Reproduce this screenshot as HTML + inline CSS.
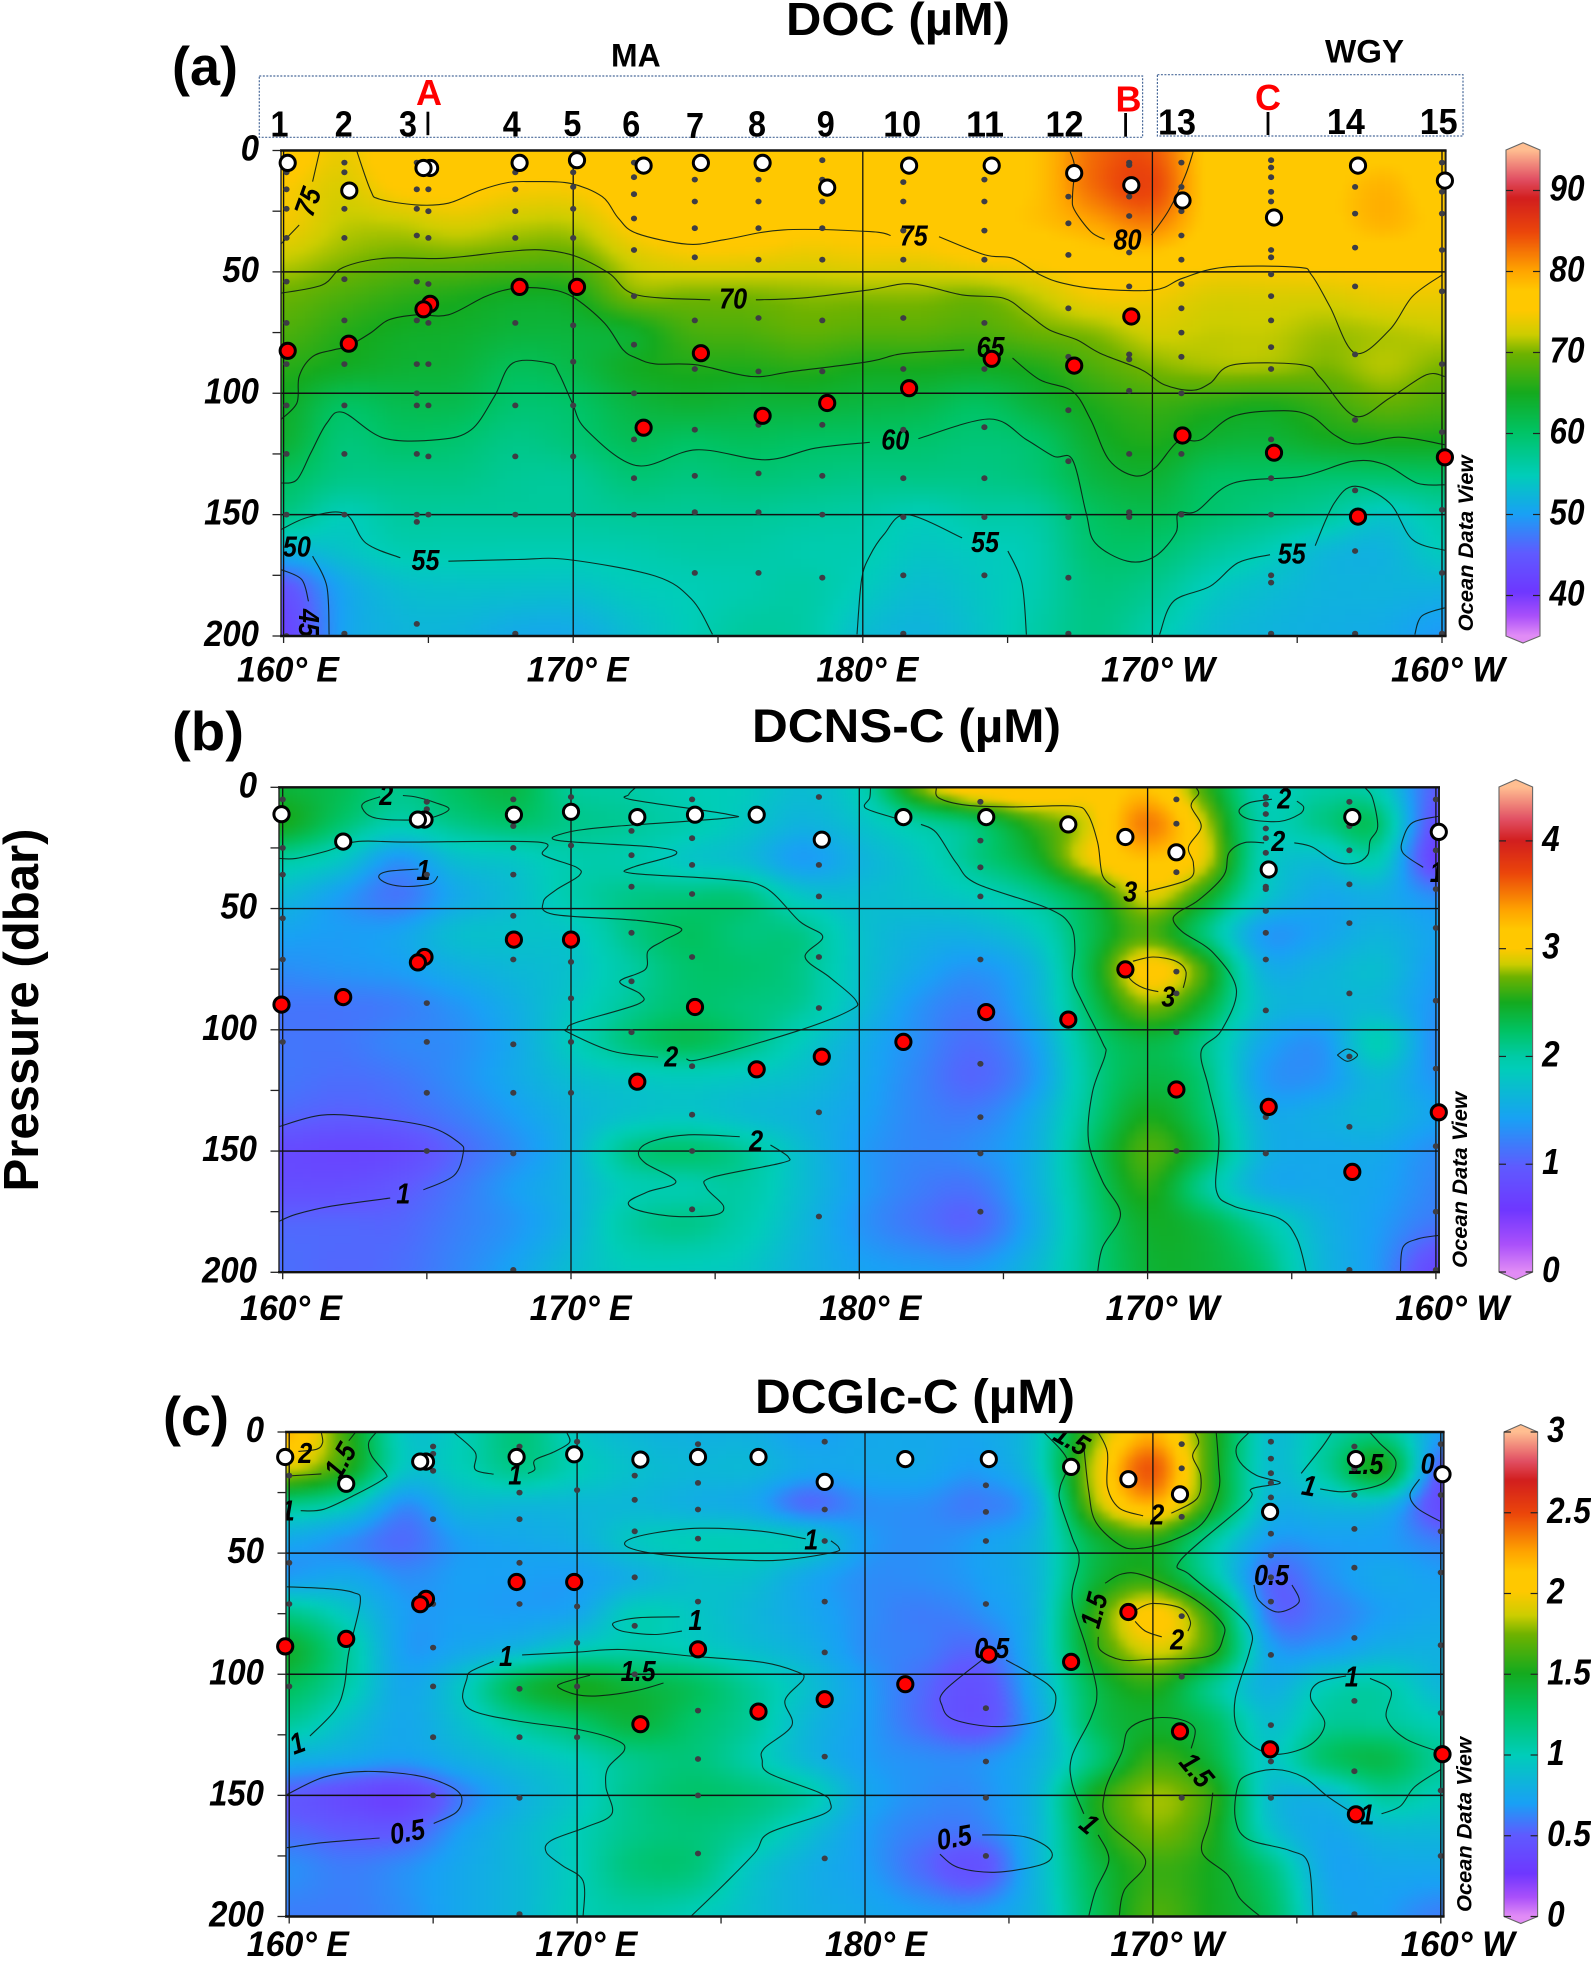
<!DOCTYPE html>
<html lang="en">
<head>
<meta charset="utf-8">
<title>DOC, DCNS-C and DCGlc-C sections</title>
<style>
html,body{margin:0;padding:0;background:#fff;}
svg{display:block;}
text{font-family:"Liberation Sans",sans-serif;fill:#000;}
</style>
</head>
<body>
<svg id="figure" xmlns="http://www.w3.org/2000/svg" width="1591" height="1963" viewBox="0 0 1591 1963">
  <defs>
    <filter id="soft" x="-2%" y="-2%" width="104%" height="104%" color-interpolation-filters="sRGB"><feGaussianBlur stdDeviation="3"/></filter>
  </defs>
  <rect x="0" y="0" width="1591" height="1963" fill="#fff"/>
  <g id="panels"></g>

  <text x="786" y="35" font-size="46" font-weight="700" textLength="224" lengthAdjust="spacingAndGlyphs">DOC (µM)</text>
  <text x="752" y="742" font-size="47" font-weight="700" textLength="309" lengthAdjust="spacingAndGlyphs">DCNS-C (µM)</text>
  <text x="755" y="1413" font-size="48" font-weight="700" textLength="320" lengthAdjust="spacingAndGlyphs">DCGlc-C (µM)</text>
  <text x="172" y="85" font-size="55" font-weight="700" textLength="66" lengthAdjust="spacingAndGlyphs">(a)</text>
  <text x="172" y="750" font-size="55" font-weight="700" textLength="72" lengthAdjust="spacingAndGlyphs">(b)</text>
  <text x="163" y="1435" font-size="55" font-weight="700" textLength="66" lengthAdjust="spacingAndGlyphs">(c)</text>
  <text transform="translate(38,1010) rotate(-90)" text-anchor="middle" font-size="49" font-weight="700" textLength="363" lengthAdjust="spacingAndGlyphs">Pressure (dbar)</text>

  <g>
    <rect x="259.3" y="76" width="883.3" height="61.3" fill="none" stroke="#4a6a9a" stroke-width="1.2" stroke-dasharray="2 1.5"/>
    <rect x="1157.4" y="74.7" width="305.6" height="61.3" fill="none" stroke="#4a6a9a" stroke-width="1.2" stroke-dasharray="2 1.5"/>
    <text x="611" y="66.7" font-size="32" font-weight="700" textLength="49.6" lengthAdjust="spacingAndGlyphs">MA</text>
    <text x="1325" y="62.3" font-size="32" font-weight="700" textLength="79" lengthAdjust="spacingAndGlyphs">WGY</text>
    <text x="429" y="105" font-size="36" font-weight="700" text-anchor="middle" style="fill:#f00">A</text>
    <text x="1128.5" y="111.7" font-size="36" font-weight="700" text-anchor="middle" style="fill:#f00">B</text>
    <text x="1268" y="110" font-size="36" font-weight="700" text-anchor="middle" style="fill:#f00">C</text>
    <rect x="426.5" y="111.7" width="2.8" height="23.5" fill="#000"/>
    <rect x="1124.2" y="113" width="2.8" height="23.7" fill="#000"/>
    <rect x="1266.6" y="112" width="2.8" height="23" fill="#000"/>
    <g font-size="36" font-weight="700" text-anchor="middle">
      <text x="279.5" y="136.7" textLength="18" lengthAdjust="spacingAndGlyphs">1</text>
      <text x="343.8" y="136.7" textLength="18" lengthAdjust="spacingAndGlyphs">2</text>
      <text x="408" y="136.7" textLength="18" lengthAdjust="spacingAndGlyphs">3</text>
      <text x="511.8" y="136.7" textLength="18" lengthAdjust="spacingAndGlyphs">4</text>
      <text x="572.4" y="136" textLength="18" lengthAdjust="spacingAndGlyphs">5</text>
      <text x="631.2" y="136.7" textLength="18" lengthAdjust="spacingAndGlyphs">6</text>
      <text x="695" y="138" textLength="18" lengthAdjust="spacingAndGlyphs">7</text>
      <text x="757" y="136.7" textLength="18" lengthAdjust="spacingAndGlyphs">8</text>
      <text x="825.8" y="136.7" textLength="18" lengthAdjust="spacingAndGlyphs">9</text>
      <text x="902.2" y="136.7" textLength="38" lengthAdjust="spacingAndGlyphs">10</text>
      <text x="985" y="136.7" textLength="38" lengthAdjust="spacingAndGlyphs">11</text>
      <text x="1064.5" y="136.7" textLength="38" lengthAdjust="spacingAndGlyphs">12</text>
      <text x="1177" y="134.3" textLength="38" lengthAdjust="spacingAndGlyphs">13</text>
      <text x="1345.9" y="134" textLength="38" lengthAdjust="spacingAndGlyphs">14</text>
      <text x="1438.7" y="134" textLength="38" lengthAdjust="spacingAndGlyphs">15</text>
    </g>
  </g>
  <text transform="translate(1473,543.5) rotate(-90)" text-anchor="middle" font-size="21" font-weight="700" font-style="italic" textLength="176" lengthAdjust="spacingAndGlyphs">Ocean Data View</text>
  <text transform="translate(1467,1180) rotate(-90)" text-anchor="middle" font-size="21" font-weight="700" font-style="italic" textLength="176" lengthAdjust="spacingAndGlyphs">Ocean Data View</text>
  <text transform="translate(1471.5,1824.5) rotate(-90)" text-anchor="middle" font-size="21" font-weight="700" font-style="italic" textLength="175" lengthAdjust="spacingAndGlyphs">Ocean Data View</text>
</svg>

<script>
// ---------- shared grid axes ----------
const gridLons = [160,162,164,166,168,170,172,174,176,178,180,182,184,186,188,190,192,194,196,198,200];
const gridDepths = [0,15,30,45,60,75,90,105,120,135,150,165,180,200];
const xTickValues = [160,170,180,190,200];
const xTickLabels = ['160° E','170° E','180° E','170° W','160° W'];
const yTickValues = [0,50,100,150,200];
const yTickLabels = ['0','50','100','150','200'];

// ---------- panel (a) DOC ----------
const aGrid = [
[77,74,77,77,77,77,77,77,77,77,77,77,77,78,83,84,77,76,76,77,76],
[75,73,75.5,76,75,75,77,77,77,77,77,77,77,78,83,85,77,76,77,79,76],
[74.5,72,72,73,72,72,75.5,77,77,76,76,76.5,77,78,80,82,77,76,77,79,77],
[72,70.5,69.5,69.5,69,69,72.5,74,74,73.5,74,74,75,75.5,76.5,77,75.5,75.5,76,76,76],
[69.5,68,66.5,65.5,64.5,65,70,70,70,70.5,70.5,70.5,70,72,74.5,74.5,73,73,73,74,74],
[68,66,64.5,64,63,63,64,67.5,68,69,68.5,68.5,68,69.5,70.5,72.5,72,72,71,71.5,72],
[66,64.5,63.5,63,61,62,64.5,65.5,65.5,66,65,65,64.5,65.5,68,70,71,71,70,71.5,70],
[64.5,60.5,61.5,61.5,59.5,60,62.5,63.5,63,63,62.5,62,60.5,63,65.5,67,66,65.3,67,69,68],
[63.5,59,60,59.5,58,59,61,60.3,60.8,60.3,60,59.7,59,60,64,65.5,63.5,63,64.5,65,65],
[60.5,58,58,58,57,57,59,58.5,59,58.5,58,58,58,59,62.5,63.5,60.5,60,59.5,59.5,60],
[58,55,56.5,56.5,56.5,56.5,57,57,57,56.5,56,55,56,56.5,60.5,61.5,59.5,58,56.5,54,56],
[52,53.5,55.2,55.3,55.2,55.2,55.5,56,56,55.5,55.2,54,54.5,55.5,59.5,59.5,57,55,52.5,52,54.5],
[44.5,50.5,53,53.5,53.5,53.5,54.5,55,55.5,56,54.5,53,54,55.5,58.5,57.5,54.5,53,52,52,52],
[42,50,52,52,51,51,53,54.8,56.5,56,53,52,53.5,56,58,55.5,53,52,51.5,51,49.5]
];
const aC75w = [161.25,0, 161,12.8, null, 160.54,30.7, 159.9,38.6];
const aC75m = [162.52,0, 163,16.3, 163.31,20, 164.58,22.4, 165.69,21.7, 166.8,16.3, 167.75,13.2, 168.55,12.8, 169.89,13.5, 171,19, 171.56,27.9, 172.19,34.1, 173.94,38.6, 175.2,36.8, 177.26,32.7, 180.24,33.4, 180.96,35, null, 182.63,35.5, 184.22,43, 185.17,44.4, 186.12,51.2, 186.92,54.7, 188.19,57.1, 190.09,57.4, 191.05,52.6, 192.47,48.1, 195.01,48.1, 195.49,51.2, 196.13,64.3, 197,83.5, 198.19,73.9, 198.98,60.1, 200.01,51.2];
const aC80 = [187.16,0.5, 187.31,6.7, 187.24,19, 187.31,24.5, 187.87,33.4, 188.35,36.6, null, 189.97,34.8, 190.57,24.5, 191.12,10.8, 191.41,0.5];
const aC70 = [159.9,58.8, 161.33,55.4, 162.05,48.2, 163.47,44.4, 165.53,44.4, 167.75,41.6, 168.86,40.9, 170.05,43.4, 171.24,50.6, 172.19,59.5, 174.73,61.5, null, 176.31,61.5, 177.9,60.8, 180.24,57.4, 181.68,54.9, 183.43,59.5, 184.85,60.8, 185.65,67, 186.44,73.9, 187.39,78, 188.19,83.5, 189.62,90.3, 190.41,96.5, 191.36,98.8, 192,95.8, 192.79,88.3, 195.17,88.3, 195.81,93.8, 197,109.5, 198.19,102, 199.46,92.4, 200.09,93.1];
const aC65 = [159.9,110.9, 160.46,104, 160.54,93, 161,84.9, 161.73,82.1, 162.2,80.7, 163,75.2, 163.63,69.8, 164.58,67.7, 165.69,67.7, 166.96,60.2, 167.91,56.9, 169.02,56.9, 169.97,60.2, 171.08,71.1, 171.72,82.1, 172.19,85.5, 172.83,87.9, 174.25,88.3, 176.15,93.1, 177.58,91, 180.24,86.9, 181.36,83.7, 183.5,82.1, null, 185.17,85.5, 186.12,94.5, 187.24,99.2, 187.87,110.9, 188.5,127.4, 189.38,134, 190.09,130.8, 190.89,119.8, 191.68,119.1, 192.79,109.5, 194.54,107.2, 195.49,109.5, 196.28,117.1, 197.08,120.9, 198.51,118.1, 200.09,121.2];
const aC60 = [159.9,137, 160.46,135.6, 160.94,124.6, 161.49,112.3, 162.05,107.9, 163.47,118.5, 165.37,119.1, 166.48,115, 167.28,101.3, 167.91,87.6, 169.18,87.6, 169.5,91.7, 169.97,104, 170.45,115, 172.19,129.8, 174.25,123.3, 176.63,127.4, 178.37,122.6, 180.24,120.2, null, 181.92,118.7, 184.38,110.6, 185.65,119.1, 186.6,126, 187.24,127.4, 187.71,149.3, 188.03,161.7, 189.14,169.2, 190.09,167.2, 190.81,157.5, 190.89,149.3, 191.52,148.6, 192.79,137, 195.17,134.2, 196.92,128, 198.03,129.4, 199.14,137, 200.09,137.7];
const aC55a = [159.9,156.2, 160.86,151, 162.12,149.6, 162.84,161.7, 164.03,167.8, null, 165.69,169.2, 168.07,168.5, 169.81,168.5, 172.83,175.3, 174.09,184.9, 174.81,199.3];
const aC55b = [179.8,199.3, 179.96,176.7, 180.24,167, 180.73,158.2, 181.52,150, 183.43,159.6, null, 185.01,165, 185.49,178.1, 185.65,199.4];
const aC55c = [190.25,199.4, 190.73,185.7, 192,179.5, 192.95,169.9, 194.06,166.5, null, 195.62,162.8, 196.28,145.2, 197,138.3, 198.19,145.2, 198.98,160.3, 200.09,164.7];
const aC50a = [161,167.1, 161.49,179.5, 161.57,199.4];
const aC50b = [199.06,199.4, 199.3,191.8, 200.09,188.4];
const aC45 = [159.9,172.6, 160.62,176.7, 160.86,185.7];
const aLabelText = ['75','75','80','70','65','60','55','55','55','50','45'];
const aLabelLon = [160.82,181.76,189.14,175.52,184.41,181.12,164.9,184.22,194.81,160.46,160.89];
const aLabelP = [21,34.8,36.5,60.8,80.7,118.9,168.5,161,165.8,163,194.6];
const aLabelRot = [-70,0,0,0,0,0,0,0,0,0,90];
const aWhiteLon = [160.14,162.27,165.06,164.83,168.15,170.13,172.43,174.41,176.54,178.77,181.6,184.45,187.3,189.27,191.04,194.2,197.1,200.1];
const aWhiteP = [5.1,16.5,7.2,7.2,5.1,4,6.2,5.1,5.1,15.3,6.2,6.2,9.3,14.3,20.6,27.6,6.2,12.4];
const aRedLon = [160.14,162.25,165.06,164.83,168.15,170.13,174.41,172.43,176.54,178.77,181.6,184.45,187.3,189.27,191.04,194.2,197.1,200.1];
const aRedP = [82.5,79.6,63.2,65.4,56.2,56.2,83.5,114.2,109.3,104,97.9,85.8,88.6,68.4,117.4,124.5,150.8,126.4];
const aDotLon = [160.1,162.1,164.6,165,168,170,172.1,174.2,176.4,178.6,181.4,184.2,187.1,189.2,191,194.1,197,200];
const aDotP = [
[9,16,24,36,54,71,88,105,125,150,200],
[5,9,24,36,53,70,88,105,125,150,199],
[5,16,24,35,54,70,88,100,105,125,150,153,195],
[16,25,36,55,71,88,105,126,150],
[9,16,25,36,71,105,126,150,199],
[9,15,24,36,72,87,105,126,150],
[5,11,18,28,41,60,80,100,119,135,150],
[12,21,32,44,70,90,115,134,149,174],
[12,21,32,45,69,91,113,133,149,174],
[4,12,21,32,45,70,91,113,134,150,176],
[13,21,33,45,69,90,115,135,151,175,199],
[12,21,33,45,71,90,114,135,151,175],
[19,30,43,65,85,107,128,151,176,199],
[5,6,19,27,42,56,84,86,99,125,149,151],
[5,15,25,35,45,55,65,75,85,100,125,150],
[4,7,11,17,21,41,44,51,60,70,81,90,119,135,150,175,178,199],
[15,26,40,56,84,111,140,165,199],
[5,17,26,41,58,88,116,148,174,199]
];
const aBarTicks = [90,80,70,60,50,40];
const aBarLabels = ['90','80','70','60','50','40'];

// ---------- panel (b) DCNS-C ----------
const bGrid = [
[2.4,2.3,2.1,2.25,2.35,2.05,2,1.9,1.85,1.7,1.9,2.7,3.15,3.2,3.05,3.2,2.6,1.9,2,1.9,1],
[2.5,2.2,1.95,2.1,2.2,2.1,2.05,1.95,1.8,1.6,1.75,2,2.2,2.6,2.9,3.5,2.85,1.95,2.1,2.2,0.85],
[2,1.8,1.35,1.7,1.8,1.95,1.95,1.8,1.7,1.4,1.6,1.8,2.1,2.4,2.95,3.2,2.9,1.9,1.7,1.9,0.7],
[1.65,1.4,1.15,1.5,1.7,1.95,2.1,2.15,2.15,1.8,1.7,1.75,1.85,2.05,2.4,2.9,2.5,1.8,1.5,1.55,1.3],
[1.45,1.4,1.45,1.7,1.75,1.8,2.1,2.25,2.15,2.1,1.75,1.6,1.6,1.8,2.3,2.65,2.15,1.4,1.45,1.6,1.45],
[1.3,1.35,1.4,1.55,1.65,1.75,2,2.2,2.2,2.1,1.75,1.5,1.35,1.6,2.35,3.05,2.6,1.6,1.6,1.7,1.4],
[1.15,1.15,1.2,1.35,1.55,1.8,2.05,2.2,2.15,2.05,1.7,1.35,1.2,1.55,2.25,2.75,2.4,1.7,1.6,1.65,1.35],
[1.15,1.15,1.25,1.3,1.5,1.85,2.15,2.3,2.15,1.85,1.55,1.3,1.1,1.4,2.1,2.35,2.1,1.5,1.35,1.9,1.3],
[1.15,1.1,1.15,1.3,1.5,1.7,1.8,1.85,1.8,1.7,1.5,1.25,1.05,1.35,2.05,2.35,2.15,1.4,1.35,1.65,1.35],
[1.05,1,1.05,1.2,1.4,1.6,1.75,1.8,1.7,1.6,1.45,1.25,1.2,1.5,2.1,2.5,2.2,1.55,1.55,1.65,1.45],
[0.8,0.75,0.8,1.05,1.3,1.6,2.1,2.2,2.05,1.7,1.4,1.25,1.3,1.55,2.2,2.65,2.3,1.6,1.5,1.5,1.3],
[0.85,0.85,0.95,1.15,1.4,1.6,1.9,1.95,2,1.7,1.4,1.2,1.15,1.55,2.15,2.55,2.05,1.55,1.5,1.45,1.25],
[1.05,1.05,1.05,1.2,1.35,1.6,2,2.1,1.95,1.65,1.35,1.15,1.05,1.5,2.1,2.45,2.35,2,1.6,1.4,1.15],
[1.1,1.05,1.1,1.25,1.45,1.7,1.85,1.85,1.8,1.6,1.45,1.4,1.4,1.65,2.1,2.4,2.4,2.2,1.65,1.35,0.75]
];
const bC2loop = [163.38,3.9, 162.85,6.1, 162.76,8.6, 163.11,12.3, 164,13.5, 165.06,12.8, 165.77,9.1, 165.24,6.1, 164.62,4, 164.17,3.4];
const bC2main = [159.87,29.3, 160.46,29.3, 161.52,26.3, 162.58,22.4, 164.35,22.6, 168.86,22.6, 169.04,27.9, 170.19,33, 170.28,36.4, 169.48,42.3, 169.04,47.3, 169.4,52.4, 172.32,54.9, 173.82,58.2, 173.2,63.3, 172.67,67.5, 172.58,75.1, 171.69,80.1, 172.4,85.2, 172.32,89.4, 170.19,97, 169.87,99.5, 169.93,101.2, 171.43,108.8, 173.02,111.3, null, 174,112.1, 174.62,111.8, 177.98,100, 179.69,91.9, 179.87,87.7, 178.99,78.5, 178.12,70, 178.73,61.6, 177.94,55.4, 176.74,41.4, 175.32,38, 172.14,35.5, 172.14,33, 173.64,27.6, 172.85,24.6, 169.57,22, 169.84,18.7, 171.43,16.2, 175.32,12.8, 175.41,11.1, 172.14,5.2, 172,3, 172.23,0.2];
const bC1loop = [164.71,33.7, 163.64,34.7, 163.33,36.9, 163.64,39.7, 164.35,40.9, 165.15,39.7, 165.38,36.7];
const bC1west = [159.87,139.9, 161.34,135.2, 162.94,136, 165.06,139.9, 166.12,146.6, 166.26,150.8, 165.94,160.1, 164.88,166, null, 163.73,169.4, 161.7,172.7, 160.46,176.1, 159.87,179];
const bC2south = [175.85,144.1, 174.08,143.3, 172.85,145.8, 172.35,150, 172.58,155, 173.64,162.6, 172.67,166.8, 172,171, 172.32,174.4, 173.55,176.9, 174.97,176.4, 175.29,172.7, 174.7,165.2, 174.88,160.9, 177.27,155, 177.54,152.5, 176.92,147.5];
const bC3top = [182.67,0.2, 182.76,4.4, 183.72,7.4, 185.29,8.1, 187.39,7.7, 187.92,11.1, 188.27,22.9, 188.44,36.4, 188.88,41.4, null, 189.93,43.1, 191.42,38, 191.59,31.3, 191.42,24.6, 191.86,16.2, 191.51,7.7, 191.77,2.7, 191.68,0.2];
const bC2centerW = [180.39,0.2, 180.36,4.4, 180.22,8.6, 181.27,12.8, null, 182.14,15.3, 182.67,18.7, 183.37,31.3, 184.07,39.7, 186.52,49.8, 187.31,56.6, 187.48,66.7, 187.39,78.5, 187.74,88.6, 188.44,105.4, 188.53,110.4, 188.09,125.6, 187.95,145.8, 188.44,162.6, 189.06,176.1, 188.44,189.6, 188.27,199.7];
const bC2centerE = [194.04,22.9, 193.34,22.9, 192.82,27.1, 192.64,36.4, 191.77,46.5, 191.07,51.5, 190.89,54.9, 191.24,59.9, 192.29,68.4, 193.08,83.5, 192.56,100.3, 191.86,108.8, 192.12,123.9, 192.47,144.1, 192.38,166, 192.99,172.7, 194.57,177.8, 195.18,186.2, 195.5,199.7];
const bC2east = [195.09,22.9, 195.71,24.6, 196.49,30.5, 197.19,31.3, 197.63,27.9, 197.72,22, 197.98,16.2, 197.8,4.4, 197.54,0.2];
const bC2loopE = [194.31,4.9, 193.52,6.4, 193.17,9.8, 193.52,13.1, 194.57,14.1, 195.27,11.1, 195.41,8.1, 195.18,5.7];
const bC2tiny = [196.58,110.4, 196.93,107.9, 197.28,110.4, 196.93,113, 196.58,110.4];
const bC3loopA = [189.49,71.7, 190.19,70, 190.98,71.7, 191.33,75.9, 191.24,82.7];
const bC3loopB = [189.23,75, 189.41,79.3, 189.84,82.7, 190.37,84.3];
const bC1ne = [200.08,12, 199.2,14.5, 198.86,21.2, 198.86,27.1, 199.56,33];
const bC1se = [198.77,199.7, 198.86,189.6, 199.38,186.2, 200.08,184.8];
const bLabelText = ['2','1','2','2','1','3','3','2','2','1'];
const bLabelLon = [163.59,164.88,173.48,176.42,164.18,189.4,190.72,194.74,194.53,200.03];
const bLabelP = [3,33.8,110.8,145.5,167.2,42.8,86,4.4,22,34.7];
const bLabelRot = [0,0,0,0,0,0,0,0,0,0];
const bWhiteLon = [159.96,162.1,164.92,164.69,168.02,170,172.3,174.3,176.44,178.7,181.53,184.4,187.25,189.23,191,194.2,197.1,200.1];
const bWhiteP = [11.1,22.4,13.3,13.3,11.3,10.1,12.3,11.3,11.3,21.6,12.3,12.3,15.3,20.5,26.8,33.9,12.3,18.4];
const bRedLon = [159.96,162.1,164.92,164.69,168.02,170,172.3,174.3,176.44,178.7,181.53,184.4,187.25,189.23,191,194.2,197.1,200.1];
const bRedP = [89.6,86.5,70,72.2,62.8,62.8,121.4,90.6,116.3,111.1,105,92.7,95.8,75.1,124.6,131.8,158.6,134];
const bDotLon = [160,165,168,170,172.1,174.2,178.6,184.2,191,194.1,197,200];
const bDotP = [
[5,25,36,54,71,105],
[6,9,36,89,105,126,150],
[5,16,25,36,53,71,106,126,151,199],
[4,24,72,87,105,126],
[18,28,41,60,80,101],
[5,21,32,44,70,115,135,150,174],
[4,32,45,70,91,134,177],
[6,22,33,45,71,114,136,151,175],
[5,15,35,76,85,101,150],
[4,7,11,17,21,27,41,42,51,60,71,92,136,151],
[6,16,26,40,56,85,111,140,199],
[5,26,42,58,88,116,148,175,199]
];
const bBarTicks = [4,3,2,1,0];
const bBarLabels = ['4','3','2','1','0'];

// ---------- panel (c) DCGlc-C ----------
const cGrid = [
[2.2,1.6,0.95,1,1.2,0.95,0.85,0.8,0.8,0.7,0.75,0.75,0.75,0.95,1.75,2.2,1.6,0.9,1.05,1.15,0.7],
[1.9,1.55,0.95,1,1.15,1,0.9,0.85,0.85,0.75,0.75,0.75,0.7,0.95,1.9,2.45,1.6,0.9,1.1,1.5,0.5],
[1.15,1,0.65,0.85,0.85,0.85,0.85,0.8,0.75,0.55,0.65,0.65,0.6,0.8,1.8,2.2,1.55,0.85,0.85,0.85,0.4],
[0.75,0.65,0.55,0.7,0.75,0.8,0.95,1,1,0.95,0.7,0.65,0.7,0.85,1.4,1.55,1.1,0.7,0.7,0.7,0.6],
[0.7,0.75,0.65,0.7,0.7,0.7,0.8,0.9,0.9,0.75,0.65,0.65,0.7,0.85,1.4,1.55,1.1,0.55,0.65,0.75,0.7],
[1.15,0.95,0.7,0.7,0.7,0.75,1,0.95,0.85,0.75,0.65,0.6,0.65,0.85,1.6,2.05,1.55,0.6,0.6,0.7,0.75],
[1.45,1.1,0.7,0.75,0.85,1,1.05,1,0.9,0.8,0.65,0.6,0.55,0.85,1.55,1.9,1.6,0.75,0.7,0.8,0.8],
[1.3,1.05,0.75,0.95,1.35,1.5,1.4,1.3,1.1,0.9,0.7,0.55,0.45,0.8,1.35,1.55,1.15,0.8,1,1.05,0.85],
[1.1,0.9,0.75,0.9,1.1,1.25,1.4,1.25,1.1,0.85,0.7,0.55,0.45,0.75,1.3,1.45,1.3,0.9,1.1,1.1,1],
[0.8,0.75,0.7,0.8,0.9,1,1.15,1.2,1.05,0.85,0.7,0.65,0.65,0.8,1.2,1.6,1.4,0.95,1.25,1.35,1.1],
[0.5,0.4,0.35,0.6,0.8,0.95,1.15,1.25,1.2,1.05,0.75,0.65,0.65,0.85,1.5,1.8,1.6,0.9,0.85,1.1,1],
[0.55,0.5,0.5,0.7,0.85,1,1.15,1.2,1.1,0.9,0.7,0.6,0.6,0.85,1.45,1.75,1.55,0.95,0.75,0.85,0.85],
[0.65,0.6,0.65,0.75,0.85,1,1.2,1.2,0.95,0.8,0.7,0.55,0.45,0.85,1.35,1.6,1.5,1.2,0.75,0.75,0.75],
[0.6,0.6,0.65,0.75,0.85,1,1.05,1,0.9,0.8,0.75,0.7,0.7,0.85,1.3,1.65,1.5,1.3,0.8,0.7,0.6]
];
const cC2nw = [161.12,0.4, 161.16,4.4, 160.96,7.1, 160.32,8];
const cC15nw = [159.92,18.2, 161.12,17.3, null, 162.07,3.6, 162.31,0];
const cC1nw = [160.4,32.5, 161.2,31.9, 162.31,25.8, 163.27,19.5, 163.35,17.1, 162.87,10, 162.76,4.4, 163.03,0.1];
const cC1top = [165.74,0.4, 166.46,8.4, 166.46,15.5, 167.1,17.4, null, 168.29,17.1, 168.53,15.5, 168.53,11.6, 169.17,8.4, 169.73,4.4, 169.65,0.4];
const cC1oval = [177.94,44.1, 176.35,40.9, 174.27,39.7, 172.68,41.7, 171.72,44.9, 171.88,48.1, 173.16,50.9, 175.55,52.8, 177.14,52.8, 178.9,49.7, 179.09,47.7, 178.82,44.9];
const cC1west = [159.92,63.9, 161.36,64.7, 162.23,66.3, 162.47,70.3, 162.07,90.9, 161.91,105.2, 161.6,114.7, 160.72,125.5];
const cC1small = [173.56,76.3, 172.2,76.6, 171.4,78.2, 171.24,79.8, 171.56,82.2, 172.68,83.6, 173.64,82.2];
const cC1midW = [167.1,94.6, 166.3,98.9, 166.17,102, 166.03,110, 166.46,115.5, 168.05,119.5, 170.13,123, 171.4,127.4, 171.64,131.4, 171.08,138.5, 171,146.5, 171.21,157.6, 170.29,163.2, 169.09,168.7, 168.93,173.5, 169.49,179, 170.21,185.4, 170.21,200];
const cC1midE = [168.09,92, 169.97,90.9, 171.56,89.8, 173.95,92.5, 176.35,94.9, 177.62,98.9, 177.86,102, 177.22,110.8, 177.46,121.1, 176.5,130.6, 176.43,135.4, 176.67,140.9, 178.42,148.9, 178.79,152.9, 178.58,157.6, 176.67,165.5, 176.19,173.5, 175.15,186.2, 173.95,200];
const cC15mid = [170.45,100.4, 169.49,103.6, 169.36,105.5, 169.97,108.4, 170.76,108.9, 172.04,106.8, 173,103.6];
const cC05west = [159.92,149.7, 161.2,142.5, 162.63,140.1, 164.39,141.7, 165.5,145.7, 165.98,150.4, 165.82,156.8, 165.02,161.6, null, 163.14,167.6, 161.2,169.5, 159.92,171.6];
const cC1center = [186.21,0.1, 187.03,11.6, 186.78,22.7, 186.78,29, 187.19,43.3, 187.44,52.8, 187.19,68.7, 187.69,89.3, 188.05,106.8, 187.85,117.9, 187.19,133.8, 187.19,144.9, 187.6,157.6, null, 188.1,166.3, 188.47,176.6, 188.01,189.3, 187.77,200];
const cC15top = [187.6,6, 187.77,24.3, 188.01,37, 188.83,46.5, 189.49,48.1, 190.64,44.9, 191.71,37.8, 192.28,24.3, 192.28,13.1, 192.2,0.1];
const cC2top = [188.1,0.1, 188.42,8.4, 188.42,22.7, 188.83,31.4, 189.66,34.6, null, 190.64,33.5, 191.54,27.4, 191.66,17.9, 191.38,10, 191.59,4.4, 191.46,0.1];
const cC15center = [188.34,62.4, 188.92,58.6, 189.66,59.1, 191.3,67.9, 192.36,78.2, 192.45,84.6, 191.95,92.5, 189.98,93.8, 188.92,94.1, 188.18,90.1, 188.1,84.6];
const cC2centerA = [189.41,73.5, 189.98,70.8, 190.97,72.7, 191.3,78.2, 191.22,82.2];
const cC2centerB = [189.38,78.2, 189.74,82.2, 190.31,84.6];
const cC15low = [188.83,200, 189,189.3, 189.74,176.6, 188.42,160.8, 188.34,148, 188.92,132.2, 189.16,122.7, 189.98,118.2, 190.97,118.7, 191.46,122.7, 191.33,130.6, null, 192.08,148.9, 191.95,160.8, 191.71,173.5, 192.61,183, 193.02,192.5, 193.73,200];
const cC1east = [193.35,0.1, 192.91,6, 193.02,12.3, 193.6,17.9, 194.42,21, 193.43,23.5, 193.27,29, 190.97,52.8, 191.3,59.1, 192.94,75, 193.43,83, 193.35,90.9, 192.86,110, 192.94,122.7, 193.6,130.6, 194.42,133, 195.48,129, 195.97,120.3, 195.48,110, 195.73,103.6, 196.71,100.7, null, 197.54,101.7, 198.27,106.8, 198.11,117.9, 198.77,126.6, 200,132.2];
const cC1low = [195.56,200, 195.4,178.2, 194.74,172.7, 193.27,167.9, 192.86,159.2, 192.94,146.5, 193.27,141.7, 194.25,139.3, 195.24,142.5, 196.06,150.4, 196.88,156.8, null, 197.94,157.6, 198.6,154.4, 199.09,146.5, 200,139.3];
const cC1neA = [195.15,17.1, 195.89,6, 196.22,0.1];
const cC1neB = [195.81,23.5, 196.71,24.6, 198.03,21, 198.44,12.3, 197.86,4.4, 197.53,0.1];
const cC05mid = [193.51,63.1, 193.68,69.5, 194.33,74.3, 195.07,70.3, 194.83,63.1];
const cC05center = [184.24,92.5, 182.76,106.8, 182.68,113.1, 183.09,118.7, 184.57,121.6, 186.21,118.7, 186.62,111.6, 186.37,104.4, 184.9,94.1];
const cC05low = [184.07,166.3, 185.55,167.1, 186.45,172.7, 186.21,178.2, 184.57,181.7, 183.25,179.8, 182.6,174.3];
const cC05ne = [199.26,19.5, 198.93,25.8, 199.18,31.4, 200,37];
const cLabelText = ['2','1.5','1','1','1','1','1','1.5','1','0.5','1.5','2','1.5','2','0.5','0.5','1','1.5','0','1','1.5','1','1','0.5'];
const cLabelLon = [160.56,161.75,159.95,167.85,178.13,174.11,167.53,172.12,160.27,164.1,187.19,190.15,187.93,190.84,184.4,194.12,195.43,197.4,199.54,196.91,191.54,187.8,197.45,183.09];
const cLabelP = [8.4,11.6,32.2,17.4,44.1,77.5,92.2,98.5,128.2,164.7,2.9,33.8,73.5,85.4,89,58.9,21.9,13.1,12.8,100.7,139.4,161.6,157.6,167.1];
const cLabelRot = [0,-60,0,0,0,0,0,0,-20,-10,30,0,-75,0,0,0,10,0,0,0,50,40,0,-10];
const cWhiteLon = [159.86,161.98,164.75,164.55,167.9,169.9,172.2,174.2,176.3,178.6,181.4,184.3,187.16,189.15,190.94,194.07,197.05,200.06];
const cWhiteP = [10.3,21.4,12.2,12.2,10.3,9.2,11.4,10.3,10.3,20.6,11.2,11.2,14.4,19.5,25.7,33,11.2,17.4];
const cRedLon = [159.86,161.98,164.75,164.55,167.9,169.9,172.2,174.2,176.3,178.6,181.4,184.3,187.16,189.15,190.94,194.07,197.05,200.06];
const cRedP = [88.5,85.4,68.9,71.1,61.9,61.9,120.6,89.7,115.4,110.3,104.1,91.9,94.9,74.3,123.6,131,157.8,133];
const cDotLon = [160,165,168,170,172,174.2,178.6,184.2,191,194.1,197,200];
const cDotP = [
[18,54,71,105],
[6,9,16,36,71,89,105,126,150],
[6,25,36,54,71,106,126,151,199],
[4,24,72,87,105,126],
[18,28,41,60,80,100],
[5,21,32,44,70,115,135,150,174],
[4,32,45,70,91,134,176],
[22,33,45,71,114,136,151,175],
[5,15,35,76,101,151],
[4,11,17,21,27,42,51,60,70,92,121,136,151],
[6,15,26,40,56,85,111,140,199],
[5,26,41,58,88,116,148,175]
];
const cBarTicks = [3,2.5,2,1.5,1,0.5,0];
const cBarLabels = ['3','2.5','2','1.5','1','0.5','0'];

// ---------- colour scale stops: fraction of colour-bar range ----------
const paletteFrac = [0,0.04,0.09,0.17,0.25,0.33,0.42,0.5,0.58,0.62,0.67,0.71,0.75,0.83,0.9,0.94,1];
const paletteRed = [225,170,110,95,25,0,0,20,110,205,255,255,255,235,210,225,255];
const paletteGreen = [140,80,55,90,160,205,195,170,178,205,200,200,165,70,30,80,190];
const paletteBlue = [245,250,255,255,245,185,100,30,0,0,0,0,0,10,30,100,145];
// each colour bar stretches the shared scale slightly differently
const linearWarpIn = [0,1];
const linearWarpOut = [0,1];
const dcnsWarpIn = [0,0.128,0.222,0.333,0.444,0.556,0.667,0.889,1];
const dcnsWarpOut = [0,0.09,0.175,0.265,0.35,0.5,0.67,0.9,1];
const dcglcWarpIn = [0,0.167,0.233,0.333,1];
const dcglcWarpOut = [0,0.17,0.25,0.33,1];

const SVGNS = 'http://www.w3.org/2000/svg';
const panelsRoot = document.getElementById('panels');

function make(tag, parent, attrs) {
  const el = document.createElementNS(SVGNS, tag);
  for (const k in attrs) el.setAttribute(k, attrs[k]);
  parent.appendChild(el);
  return el;
}
function warp(f, inp, out) {
  f = Math.max(0, Math.min(1, f));
  let i = 0;
  while (i < inp.length - 2 && f > inp[i + 1]) i++;
  return out[i] + (f - inp[i]) / (inp[i + 1] - inp[i]) * (out[i + 1] - out[i]);
}
function colorAt(f) {
  f = Math.max(0, Math.min(1, f));
  let i = 0;
  while (i < paletteFrac.length - 2 && f > paletteFrac[i + 1]) i++;
  const t = (f - paletteFrac[i]) / (paletteFrac[i + 1] - paletteFrac[i]);
  const r = paletteRed[i] + t * (paletteRed[i + 1] - paletteRed[i]);
  const g = paletteGreen[i] + t * (paletteGreen[i + 1] - paletteGreen[i]);
  const b = paletteBlue[i] + t * (paletteBlue[i + 1] - paletteBlue[i]);
  return 'rgb(' + Math.round(r) + ',' + Math.round(g) + ',' + Math.round(b) + ')';
}
function cr(a, b, c, d, t) {
  return b + 0.5 * t * (c - a + t * (2 * a - 5 * b + 4 * c - d + t * (3 * (b - c) + d - a)));
}
function sampleGrid(grid, lon, p) {
  let u = (lon - gridLons[0]) / 2;
  u = Math.max(0, Math.min(gridLons.length - 1, u));
  let r = 0;
  const cl = Math.max(0, Math.min(200, p));
  while (r < gridDepths.length - 2 && cl > gridDepths[r + 1]) r++;
  const v = r + (cl - gridDepths[r]) / (gridDepths[r + 1] - gridDepths[r]);
  const iu = Math.min(Math.floor(u), gridLons.length - 2), iv = Math.min(Math.floor(v), gridDepths.length - 2);
  const tu = u - iu, tv = v - iv;
  const row = j => {
    const R = grid[Math.max(0, Math.min(gridDepths.length - 1, j))];
    const g = k => R[Math.max(0, Math.min(gridLons.length - 1, k))];
    return cr(g(iu - 1), g(iu), g(iu + 1), g(iu + 2), tu);
  };
  return cr(row(iv - 1), row(iv), row(iv + 1), row(iv + 2), tv);
}
function smoothPath(flat, X, Y) {
  const segs = [[]];
  for (let i = 0; i < flat.length;) {
    if (flat[i] === null) { segs.push([]); i++; continue; }
    segs[segs.length - 1].push([X(flat[i]), Y(flat[i + 1])]);
    i += 2;
  }
  let d = '';
  segs.forEach(s => {
    if (!s.length) return;
    d += 'M' + s[0][0].toFixed(1) + ' ' + s[0][1].toFixed(1);
    for (let i = 0; i < s.length - 1; i++) {
      const p0 = s[Math.max(0, i - 1)], p1 = s[i], p2 = s[i + 1], p3 = s[Math.min(s.length - 1, i + 2)];
      const c1x = p1[0] + (p2[0] - p0[0]) / 6, c1y = p1[1] + (p2[1] - p0[1]) / 6;
      const c2x = p2[0] - (p3[0] - p1[0]) / 6, c2y = p2[1] - (p3[1] - p1[1]) / 6;
      d += 'C' + c1x.toFixed(1) + ' ' + c1y.toFixed(1) + ' ' + c2x.toFixed(1) + ' ' + c2y.toFixed(1) + ' ' + p2[0].toFixed(1) + ' ' + p2[1].toFixed(1);
    }
  });
  return d;
}
function stretchedText(parent, str, x, y, size, perChar, anchor) {
  let len = 0;
  for (const ch of str) len += ch === '.' ? perChar * 0.5 : perChar;
  const t = make('text', parent, {x: x, y: y, 'font-size': size, 'font-weight': 700, 'font-style': 'italic', 'text-anchor': anchor, textLength: len, lengthAdjust: 'spacingAndGlyphs'});
  t.textContent = str;
  return t;
}

function drawPanel(cfg) {
  const X = lon => cfg.x0 + cfg.kx * (lon - 160);
  const Y = p => cfg.top + cfg.ky * p;
  const shade = f => colorAt(warp(f, cfg.warpIn, cfg.warpOut));
  const g = make('g', panelsRoot, {});
  
  

  const clip = make('clipPath', g, {id: cfg.id + '-clip'});
  make('rect', clip, {x: cfg.left, y: cfg.top, width: cfg.right - cfg.left, height: cfg.bottom - cfg.top});

  const clipped = make('g', g, {'clip-path': 'url(#' + cfg.id + '-clip)'});
  const heat = make('g', clipped, {filter: 'url(#soft)', 'shape-rendering': 'crispEdges'});
  
  
  const step = 8;
  for (let py = cfg.top - step * 2; py < cfg.bottom + step * 2; py += step) {
    for (let px = cfg.left - step * 2; px < cfg.right + step * 2; px += step) {
      const lon = 160 + (px + step / 2 - cfg.x0) / cfg.kx;
      const dep = (py + step / 2 - cfg.top) / cfg.ky;
      const val = sampleGrid(cfg.grid, lon, dep);
      const cell = make('rect', heat, {x: px, y: py, width: step + 0.5, height: step + 0.5, fill: shade((val - cfg.vmin) / (cfg.vmax - cfg.vmin))});
      
      
    }
  }

  // grid lines
  [50, 100, 150].forEach(v => {
    const l = make('line', clipped, {x1: cfg.left, x2: cfg.right, y1: Y(v), y2: Y(v), stroke: '#111', 'stroke-width': 1.4});
    
    
  });
  xTickValues.forEach(v => {
    const l = make('line', clipped, {x1: X(v), x2: X(v), y1: cfg.top, y2: cfg.bottom, stroke: '#111', 'stroke-width': 1.3});
    
    
  });

  // contours
  cfg.contours.forEach(flat => {
    const path = make('path', clipped, {d: smoothPath(flat, X, Y), fill: 'none', stroke: '#0c1c14', 'stroke-width': 1.1, 'stroke-opacity': 0.9});
    
    
  });

  // contour labels
  cfg.labelText.forEach((s, i) => {
    const wrap = make('g', clipped, {transform: 'translate(' + X(cfg.labelLon[i]).toFixed(1) + ',' + Y(cfg.labelP[i]).toFixed(1) + ') rotate(' + cfg.labelRot[i] + ')'});
    
    
    stretchedText(wrap, s, 0, 10.5, 29, 14, 'middle');
  });

  // sample dots
  const dots = make('g', clipped, {fill: '#3d3d44'});
  
  
  cfg.dotLon.forEach((lon, i) => {
    cfg.dotP[i].forEach(p => {
      const c = make('ellipse', dots, {cx: X(lon).toFixed(1), cy: Y(p).toFixed(1), rx: 3.1, ry: 2.9});
      
      
    });
  });

  // frame
  const frame = make('g', g, {});
  
  
  make('line', frame, {x1: cfg.left, x2: cfg.left, y1: cfg.top, y2: cfg.bottom, stroke: '#222', 'stroke-width': 1.4});
  make('line', frame, {x1: cfg.right, x2: cfg.right, y1: cfg.top, y2: cfg.bottom, stroke: '#222', 'stroke-width': 2});
  make('line', frame, {x1: cfg.left - 1, x2: cfg.right + 1, y1: cfg.top, y2: cfg.top, stroke: '#111', 'stroke-width': 2.4});
  make('line', frame, {x1: cfg.left - 1, x2: cfg.right + 1, y1: cfg.bottom, y2: cfg.bottom, stroke: '#111', 'stroke-width': 2.4});

  // y ticks
  for (let v = 0; v <= 200; v += 25) {
    make('line', frame, {x1: cfg.left - 8.5, x2: cfg.left, y1: Y(v), y2: Y(v), stroke: '#222', 'stroke-width': 1.3});
  }
  yTickValues.forEach((v, i) => {
    const t = stretchedText(frame, yTickLabels[i], cfg.left - 22, Y(v) + 10, 36, 18.3, 'end');
    
    
  });
  // x ticks
  for (let v = 160; v <= 200; v += 5) {
    make('line', frame, {x1: X(v), x2: X(v), y1: cfg.bottom, y2: cfg.bottom + 7, stroke: '#222', 'stroke-width': 1.3});
  }
  xTickValues.forEach((v, i) => {
    const s = xTickLabels[i];
    const t = make('text', frame, {x: X(v) + cfg.xLabelOffset[i], y: cfg.xLabelY, 'font-size': 35, 'font-weight': 700, 'font-style': 'italic', 'text-anchor': 'middle', textLength: s.endsWith('W') ? 114 : 102, lengthAdjust: 'spacingAndGlyphs'});
    t.textContent = s;
    
    
  });

  // station marker circles
  const drawCircles = (lons, ps, fill, name) => {
    lons.forEach((lon, i) => {
      const c = make('ellipse', g, {cx: X(lon).toFixed(1), cy: Y(ps[i]).toFixed(1), rx: 7.6, ry: 7.6, fill: fill, stroke: '#000', 'stroke-width': 3});
      
      
    });
  };
  drawCircles(cfg.whiteLon, cfg.whiteP, '#fff', 'surface-sample-marker');
  drawCircles(cfg.redLon, cfg.redP, '#f00', 'chlorophyll-max-marker');

  // colour bar
  const b = cfg.bar;
  const cb = make('g', g, {});
  
  
  const mid = (b.left + b.right) / 2;
  const outline = [b.left, b.shoulderTop, mid, b.tipTop, b.right, b.shoulderTop, b.right, b.shoulderBottom, mid, b.tipBottom, b.left, b.shoulderBottom].join(' ');
  const cbClip = make('clipPath', cb, {id: cfg.id + '-bar-clip'});
  make('polygon', cbClip, {points: outline});
  const strips = make('g', cb, {'clip-path': 'url(#' + cfg.id + '-bar-clip)', 'shape-rendering': 'crispEdges'});
  for (let y = b.tipTop; y < b.tipBottom; y += 2) {
    const f = (b.shoulderBottom - y - 1) / (b.shoulderBottom - b.shoulderTop);
    make('rect', strips, {x: b.left, y: y, width: b.right - b.left, height: 2.5, fill: shade(f)});
  }
  make('polygon', cb, {points: outline, fill: 'none', stroke: '#666', 'stroke-width': 1.1});
  const barY = v => b.shoulderBottom - (v - cfg.vmin) / (cfg.vmax - cfg.vmin) * (b.shoulderBottom - b.shoulderTop);
  cfg.barTicks.forEach((v, i) => {
    const y = barY(v);
    make('line', cb, {x1: b.left, x2: b.left + 7, y1: y, y2: y, stroke: '#222', 'stroke-width': 1.2});
    make('line', cb, {x1: b.right - 7, x2: b.right, y1: y, y2: y, stroke: '#222', 'stroke-width': 1.2});
    const t = stretchedText(cb, cfg.barLabels[i], b.right + 9.5, y + 10, 36, 17.5, 'start');
    
    
  });
}

drawPanel({id: 'doc', grid: aGrid, vmin: 35, vmax: 95, warpIn: linearWarpIn, warpOut: linearWarpOut,
  left: 281, right: 1445.6, top: 150.5, bottom: 636, x0: 283.6, kx: 28.96, ky: 2.4275, xLabelY: 681.7, xLabelOffset: [4.4,4.5,4.6,5.6,6],
  contours: [aC75w, aC75m, aC80, aC70, aC65, aC60, aC55a, aC55b, aC55c, aC50a, aC50b, aC45],
  labelText: aLabelText, labelLon: aLabelLon, labelP: aLabelP, labelRot: aLabelRot,
  whiteLon: aWhiteLon, whiteP: aWhiteP, redLon: aRedLon, redP: aRedP, dotLon: aDotLon, dotP: aDotP,
  barTicks: aBarTicks, barLabels: aBarLabels,
  bar: {left: 1506, right: 1540, tipTop: 142.7, shoulderTop: 150, shoulderBottom: 636, tipBottom: 643}});

drawPanel({id: 'dcns', grid: bGrid, vmin: 0, vmax: 4.5, warpIn: dcnsWarpIn, warpOut: dcnsWarpOut,
  left: 279, right: 1439, top: 787.3, bottom: 1272.2, x0: 282.7, kx: 28.83, ky: 2.425, xLabelY: 1320, xLabelOffset: [8.3,9.6,11,15,16.3],
  contours: [bC2loop, bC2main, bC1loop, bC1west, bC2south, bC3top, bC2centerW, bC2centerE, bC2east, bC2loopE, bC2tiny, bC3loopA, bC3loopB, bC1ne, bC1se],
  labelText: bLabelText, labelLon: bLabelLon, labelP: bLabelP, labelRot: bLabelRot,
  whiteLon: bWhiteLon, whiteP: bWhiteP, redLon: bRedLon, redP: bRedP, dotLon: bDotLon, dotP: bDotP,
  barTicks: bBarTicks, barLabels: bBarLabels,
  bar: {left: 1499, right: 1532.6, tipTop: 779.6, shoulderTop: 787, shoulderBottom: 1272, tipBottom: 1279.6}});

drawPanel({id: 'dcglc', grid: cGrid, vmin: 0, vmax: 3, warpIn: dcglcWarpIn, warpOut: dcglcWarpOut,
  left: 286, right: 1443.6, top: 1432, bottom: 1916.5, x0: 289.2, kx: 28.79, ky: 2.4225, xLabelY: 1956, xLabelOffset: [8.6,9.3,11,14.5,17],
  contours: [cC2nw, cC15nw, cC1nw, cC1top, cC1oval, cC1west, cC1small, cC1midW, cC1midE, cC15mid, cC05west, cC1center, cC15top, cC2top, cC15center, cC2centerA, cC2centerB, cC15low, cC1east, cC1low, cC1neA, cC1neB, cC05mid, cC05center, cC05low, cC05ne],
  labelText: cLabelText, labelLon: cLabelLon, labelP: cLabelP, labelRot: cLabelRot,
  whiteLon: cWhiteLon, whiteP: cWhiteP, redLon: cRedLon, redP: cRedP, dotLon: cDotLon, dotP: cDotP,
  barTicks: cBarTicks, barLabels: cBarLabels,
  bar: {left: 1504, right: 1537.6, tipTop: 1424.6, shoulderTop: 1432, shoulderBottom: 1916.5, tipBottom: 1923.5}});
</script>
</body>
</html>
